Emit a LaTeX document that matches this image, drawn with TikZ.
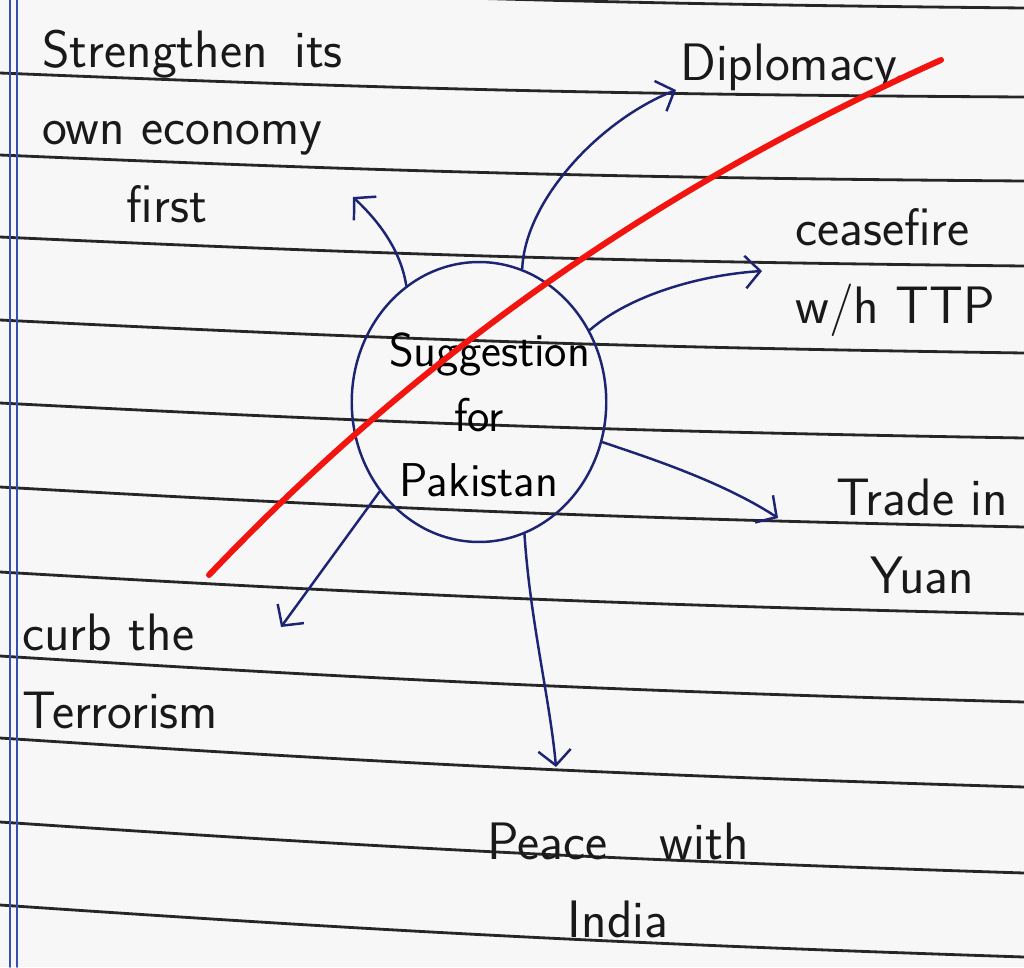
\documentclass[tikz,border=0pt]{standalone}
\usepackage{fontspec}
\usepackage{tikz}
\usetikzlibrary{arrows.meta, shapes}

\definecolor{ink}{HTML}{1C2473}
\definecolor{pen}{HTML}{F2150F}
\definecolor{margin}{HTML}{3550B0}
\definecolor{paper}{HTML}{F7F7F7}

\begin{document}
\begin{tikzpicture}[
	x=0.02cm, y=-0.02cm,
	>={Straight Barb[length=3mm,width=6.5mm]},
	line cap=round,
	font=\sffamily\fontsize{30}{44}\selectfont
]

\tikzset{
	idea/.style={inner sep=0pt, text=black!90, align=left},
	link/.style={->, ink, line width=1.4pt},
	ruled/.style={black!85, line width=1.6pt}
}

\useasboundingbox[fill=paper] (0,0) rectangle (1024,967);
\clip (0,0) rectangle (1024,967);

% page
\draw[ruled] (0,-20) to[bend right=1] (1024,8)
	(0,73) to[bend right=1] (1024,97)
	(0,155) to[bend right=1] (1024,181)
	(0,237) to[bend right=1] (1024,266)
	(0,320) to[bend right=1] (1024,353)
	(0,403) to[bend right=1] (1024,438)
	(0,487) to[bend right=1] (1024,527)
	(0,572) to[bend right=1] (1024,614)
	(0,656) to[bend right=1] (1024,702)
	(0,738) to[bend right=1] (1024,787)
	(0,822) to[bend right=1] (1024,873)
	(0,905) to[bend right=1] (1024,957);
\draw[margin, line width=1pt] (10,0) -- (10,967) (17,0) -- (17,967);

\node[draw=ink, line width=1.4pt, ellipse, text width=3.6cm, align=center,
	inner sep=0pt, minimum height=5.6cm,
	font=\sffamily\fontsize{27}{37}\selectfont]
	(sug) at (479,402) {\rule{0pt}{34pt}Suggestion\\for\\Pakistan};

\node[idea, anchor=base west] (strength) at (42,222) {Strengthen\enspace its\\own economy\\\hspace*{1.6em}first};
\node[idea, anchor=base west] (dipl) at (680,80) {Diplomacy.};
\node[idea, anchor=base west] (cease) at (795,323) {ceasefire\\w/h TTP};
\node[idea, align=center, anchor=base] (trade) at (922,593) {Trade in\\Yuan};
\node[idea, anchor=base west] (curb) at (22,728) {curb the\\Terrorism};
\node[idea, align=center, anchor=base] (peace) at (618,937) {Peace\quad with\\India};

\coordinate (tStr) at (353,197);
\coordinate (tDip) at (676,90);
\coordinate (tCea) at (762,271);
\coordinate (tTra) at (778,518);
\coordinate (tPea) at (556,767);
\coordinate (tCur) at (281,627);

\draw[link] (sug.122) .. controls (400,245) and (372,215) .. (tStr);
\draw[link] (sug.72) .. controls (525,200) and (600,120) .. (tDip);
\draw[link] (sug.33) .. controls (630,295) and (700,275) .. (tCea);
\draw[link] (sug.-18) .. controls (640,455) and (720,480) .. (tTra);
\draw[link] (sug.-71) .. controls (530,620) and (550,700) .. (tPea);
\draw[link] (sug.-138) -- (tCur);

% strike-through
\draw[pen, line width=3.4pt] (209,575) .. controls (449,323) and (701,168) .. (941,60);
\end{tikzpicture}
\end{document}
